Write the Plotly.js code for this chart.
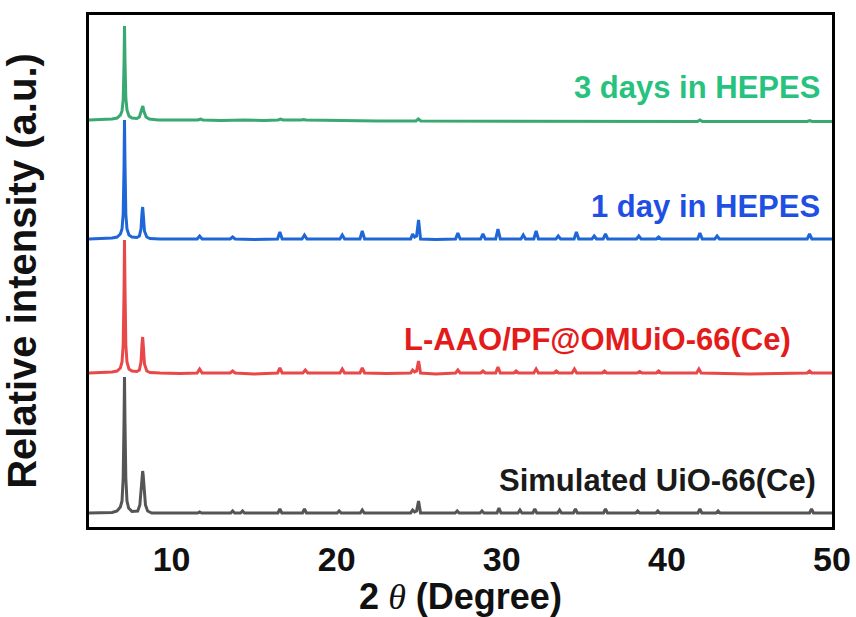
<!DOCTYPE html>
<html><head><meta charset="utf-8">
<script src="https://cdn.plot.ly/plotly-3.0.1.min.js"></script>
<style>html,body{margin:0;padding:0;background:#fff}#chart{width:856px;height:617px}</style>
</head><body><div id="chart"></div>
<script>
// Labels of the four patterns (bottom to top)
const seriesNames = ["Simulated UiO-66(Ce)", "L-AAO/PF@OMUiO-66(Ce)", "1 day in HEPES", "3 days in HEPES"];
// Vertical stacking offsets (a.u.)
const offsets = [14, 154, 288, 407];
const xTicks = [10, 20, 30, 40, 50];

// Simulated UiO-66(Ce)
const simX = [5.0,6.4,6.7,6.9,7.0,7.07,7.12,7.15,7.18,7.23,
  7.3,7.4,7.6,7.95,8.08,8.17,8.22,8.25,8.28,8.33,
  8.42,8.55,8.8,11.58,11.7,11.82,13.58,13.7,13.82,14.18,
  14.3,14.42,16.44,16.56,16.68,17.93,18.05,18.17,20.03,20.15,
  20.27,21.43,21.55,21.67,24.48,24.6,24.72,24.84,24.96,25.08,
  27.18,27.3,27.42,28.68,28.8,28.92,29.71,29.83,29.95,30.98,
  31.1,31.22,31.88,32.0,32.12,33.38,33.5,33.62,34.34,34.46,
  34.58,36.16,36.28,36.4,38.11,38.23,38.35,39.33,39.45,39.57,
  41.88,42.0,42.12,42.98,43.1,43.22,48.64,48.76,48.88,50.0];
const simY = [0,0.5,2,6,12,35,90,136,90,35,
  12,5,1.5,2,8,25,38,42,38,25,
  8,2,0,0,1,0,0,2,0,0,
  2,0,0,4,0,0,4,0,0,2,
  0,0,3,0,0,3,1,2,12,0,
  0,2,0,0,2,0,0,5,0,0,
  3,0,0,4,0,0,3,0,0,4,
  0,0,4,0,0,2,0,0,2,0,
  0,4,0,0,2,0,0,4,0,0];

// L-AAO/PF@OMUiO-66(Ce)
const compX = [5.0,5.8,6.4,6.7,6.9,7.0,7.07,7.12,7.15,7.18,
  7.23,7.3,7.42,7.6,7.9,8.05,8.15,8.21,8.25,8.29,
  8.36,8.5,8.7,9.3,10.5,11.55,11.7,11.85,13.55,13.7,
  13.85,15.0,16.42,16.56,16.7,17.95,18.1,18.25,20.2,20.34,
  20.48,21.41,21.55,21.69,23.0,24.48,24.6,24.72,24.84,24.96,
  25.08,26.0,27.2,27.34,27.48,28.72,28.86,29.0,29.63,29.77,
  29.91,30.73,30.87,31.01,31.94,32.08,32.22,33.16,33.3,33.44,
  34.26,34.4,34.54,36.08,36.22,36.36,38.2,38.35,38.5,39.36,
  39.5,39.64,41.8,41.94,42.08,45.0,48.5,48.64,48.78,50.0];
const compY = [0,0.5,1,2,5,11,28,80,133,85,
  28,11,4,2,1.5,3,11,29,36,27,
  9,2,0.5,0,-0.5,0,4,0,0,2,
  0,-1,0,5,0,0,3,0,0,4,
  0,0,5,0,-0.5,0,3,1,2,12,
  0,-1,0,3,0,0,2,0,0,6,
  0,0,2,0,0,4,0,0,2,0,
  0,4,0,0,2,0,0,1.5,0,0,
  2,0,0,4,0,-1,0,2,0,0];

// 1 day in HEPES
const day1X = [5.0,5.8,6.4,6.7,6.9,7.0,7.07,7.12,7.15,7.18,
  7.23,7.3,7.42,7.6,7.9,8.05,8.15,8.21,8.25,8.29,
  8.36,8.5,8.7,9.3,10.5,11.55,11.7,11.85,13.55,13.7,
  13.85,15.0,16.42,16.56,16.7,17.9,18.05,18.2,20.2,20.34,
  20.48,21.41,21.55,21.69,23.0,24.48,24.6,24.72,24.84,24.96,
  25.08,26.0,27.2,27.34,27.48,28.72,28.86,29.0,29.63,29.77,
  29.91,31.16,31.3,31.44,31.94,32.08,32.22,33.28,33.42,33.56,
  34.38,34.52,34.66,35.46,35.6,35.74,36.14,36.28,36.42,38.16,
  38.3,38.44,39.36,39.5,39.64,41.86,42.0,42.14,42.9,43.04,
  43.18,45.5,48.5,48.64,48.78,50.0];
const day1Y = [0,0.5,1,2,5,10,25,70,119,75,
  25,10,4,2,1.5,3,10,26,32,24,
  8,2,0.5,0,0,0,3,0,0,2,
  0,-0.5,0,7,0,0,4,0,0,4,
  0,0,8,0,0,0,5,2,3,19,
  0,-0.5,0,6,0,0,5,0,0,10,
  0,0,4,0,0,8,0,0,3,0,
  0,7,0,0,3,0,0,5,0,0,
  3,0,0,2,0,0,6,0,0,3,
  0,0,0,5,0,0];

// 3 days in HEPES
const day3X = [5.0,5.8,6.4,6.7,6.9,7.0,7.07,7.12,7.15,7.18,
  7.23,7.3,7.42,7.6,7.9,8.05,8.15,8.22,8.26,8.32,
  8.45,8.65,9.2,10.2,11.6,11.75,11.9,13.0,14.4,15.6,
  16.45,16.6,16.75,17.85,18.0,18.15,19.5,21.0,22.5,24.8,
  24.95,25.1,26.5,28.0,30.0,32.0,34.0,36.0,38.0,40.0,
  41.85,42.0,42.15,44.0,46.0,48.5,48.65,48.8,50.0];
const day3Y = [0,0.5,1,2,5,9,20,55,94,60,
  22,10,4,2,1.5,3,8,13,14,9,
  3,1,0,0,0,1,0,-0.5,0,-0.5,
  0,1,0,0,0.5,0,-0.5,-1,-1,-1,
  1,-1,-1,-1.5,-1.5,-1.5,-1.5,-1.5,-1.5,-1.5,
  -1.5,0,-1.5,-1.5,-1.5,-1.5,-0.5,-1.5,-1.5];

const xs = [simX, compX, day1X, day3X];
const ys = [simY, compY, day1Y, day3Y];
const lineColors = ["#555555", "#e84848", "#1f66d6", "#3aa971"];
const textColors = ["#1a1a1a", "#e31b1b", "#1f4fe3", "#27c27e"];

const FONT = 'Arial, "Liberation Sans", sans-serif';

const traces = xs.map((x, i) => ({
  x: x,
  y: ys[i].map(v => v + offsets[i]),
  type: 'scatter',
  mode: 'lines',
  name: seriesNames[i],
  line: {color: lineColors[i], width: 3},
  hoverinfo: 'x+name'
}));

const labelPos = [
  {x: 49.15, y: 47},
  {x: 47.64, y: 188},
  {x: 49.4, y: 321},
  {x: 49.4, y: 440}
];

const annotations = seriesNames.map((t, i) => ({
  text: t,
  x: labelPos[i].x, y: labelPos[i].y,
  xref: 'x', yref: 'y',
  xanchor: 'right', yanchor: 'middle',
  showarrow: false,
  font: {family: FONT, size: 31, color: textColors[i], weight: 'bold'}
}));

const layout = {
  width: 856, height: 617,
  margin: {l: 89, r: 24, t: 15, b: 90},
  paper_bgcolor: '#ffffff',
  plot_bgcolor: '#ffffff',
  showlegend: false,
  xaxis: {
    range: [5, 50],
    tickvals: xTicks,
    ticktext: xTicks.map(String),
    ticks: '',
    showline: true, mirror: true, linewidth: 3, linecolor: '#000',
    showgrid: false, zeroline: false,
    tickfont: {family: FONT, size: 34, color: '#111', weight: 'bold'},
    title: {
      text: '2<span style="font-family:\'Liberation Serif\',serif;font-weight:normal"> <i>θ</i></span> (Degree)',
      font: {family: FONT, size: 36, color: '#111', weight: 'bold'},
      standoff: 6
    }
  },
  yaxis: {
    range: [0, 512],
    showticklabels: false,
    ticks: '',
    showline: true, mirror: true, linewidth: 3, linecolor: '#000',
    showgrid: false, zeroline: false,
    title: {
      text: 'Relative intensity (a.u.)',
      font: {family: FONT, size: 40, color: '#111', weight: 'bold'},
      standoff: 38
    }
  },
  annotations: annotations
};

Plotly.newPlot('chart', traces, layout, {staticPlot: true, displayModeBar: false});
</script></body></html>
